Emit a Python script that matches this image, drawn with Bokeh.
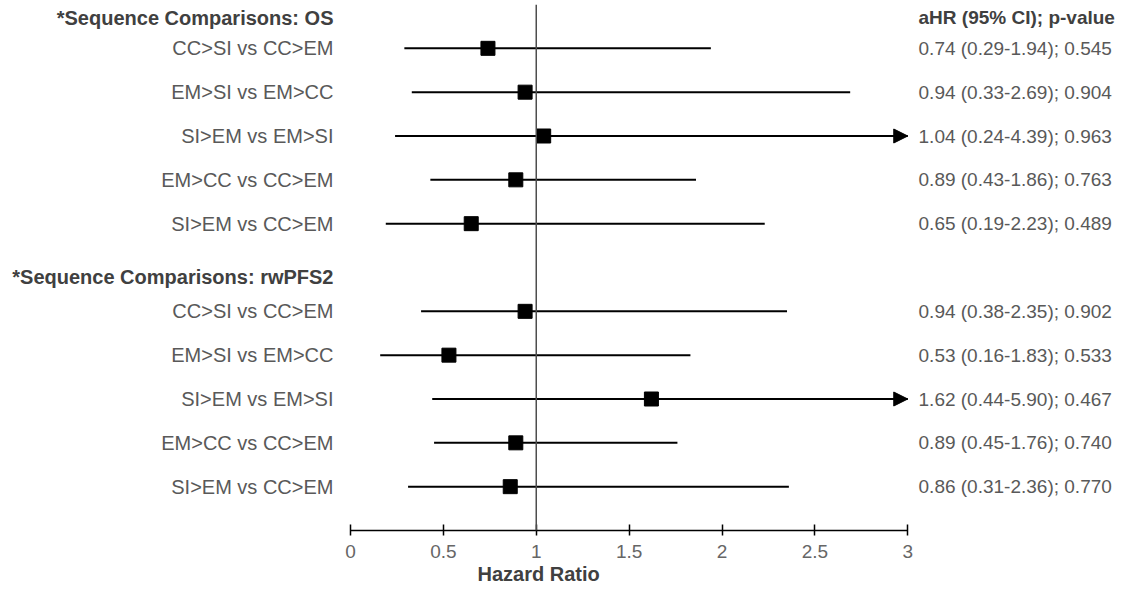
import numpy as np
from bokeh.plotting import figure
from bokeh.models import Range1d, Span, Arrow, NormalHead, Title, FixedTicker, NumeralTickFormatter
from bokeh.core.properties import value
from bokeh.embed import file_html
from bokeh.resources import INLINE

# ---------------- data ----------------
comparisons = ["CC>SI vs CC>EM", "EM>SI vs EM>CC", "SI>EM vs EM>SI", "EM>CC vs CC>EM", "SI>EM vs CC>EM"]
group_titles = ["*Sequence Comparisons: OS", "*Sequence Comparisons: rwPFS2"]
column_title = "aHR (95% CI); p-value"

os_hr = [0.74, 0.94, 1.04, 0.89, 0.65]
os_lo = [0.29, 0.33, 0.24, 0.43, 0.19]
os_hi = [1.94, 2.69, 4.39, 1.86, 2.23]
os_p = [0.545, 0.904, 0.963, 0.763, 0.489]

pfs_hr = [0.94, 0.53, 1.62, 0.89, 0.86]
pfs_lo = [0.38, 0.16, 0.44, 0.45, 0.31]
pfs_hi = [2.35, 1.83, 5.90, 1.76, 2.36]
pfs_p = [0.902, 0.533, 0.467, 0.740, 0.770]

x_ticks = [0, 0.5, 1, 1.5, 2, 2.5, 3]
x_label = "Hazard Ratio"

# ---------------- layout helpers ----------------
XMAX = 3.0
FONT = value("Liberation Sans")
LABEL_COLOR = "#595959"
HEAD_COLOR = "#404040"

groups = [(os_hr, os_lo, os_hi, os_p), (pfs_hr, pfs_lo, pfs_hi, pfs_p)]
group_offset = [0, 6]
header_y = [-0.7, 5.22]
RIGHT_X = 3.058

p = figure(width=1122, height=585, output_backend="svg", toolbar_location=None,
           x_range=Range1d(-1.841, 4.156), y_range=Range1d(11.0, -1.0),
           y_axis_location=None, min_border_left=8, min_border_right=0,
           min_border_top=4, min_border_bottom=55, title=None)
p.outline_line_color = None
p.xgrid.visible = False
p.ygrid.visible = False
p.background_fill_color = "white"

# x axis
ax = p.xaxis[0]
ax.bounds = (0, XMAX)
ax.ticker = FixedTicker(ticks=x_ticks)
ax.formatter = NumeralTickFormatter(format="0.[0]")
ax.minor_tick_line_color = None
ax.major_tick_in = 6
ax.major_tick_out = 5
ax.major_tick_line_width = 1.5
ax.major_tick_line_color = "black"
ax.axis_line_width = 1.5
ax.axis_line_color = "black"
ax.major_label_standoff = 9
ax.major_label_text_font = "Liberation Sans"
ax.major_label_text_font_size = "19px"
ax.major_label_text_color = "#666666"

# axis title placed under the axis
p.add_layout(Title(text=x_label, align="left", offset=469, standoff=0,
                   text_font="Liberation Sans", text_font_size="20px", text_font_style="bold",
                   text_color=HEAD_COLOR), "below")

# reference line at HR = 1
p.add_layout(Span(location=1, dimension="height", line_color="#4d4d4d", line_width=1.5))

for g, (hr, lo, hi, pv) in enumerate(groups):
    ys = [group_offset[g] + i for i in range(len(hr))]
    hi_cap = [min(h, XMAX) for h in hi]
    p.segment(x0=lo, y0=ys, x1=hi_cap, y1=ys, line_color="black", line_width=2)
    for h, y in zip(hi, ys):
        if h > XMAX:
            p.add_layout(Arrow(x_start=XMAX - 0.08, y_start=y, x_end=XMAX, y_end=y,
                               line_color="black", line_width=2,
                               end=NormalHead(size=14, fill_color="black", line_color="black", line_width=1)))
    p.scatter(x=hr, y=ys, marker="square", size=14, fill_color="black", line_color="black")
    # left labels
    p.text(x=[-0.0915] * len(ys), y=ys, text=comparisons, text_font=FONT,
           text_font_size=value("20px"), text_color=LABEL_COLOR,
           text_align="right", text_baseline="middle")
    # right labels
    txt = [f"{h:.2f} ({l:.2f}-{u:.2f}); {q:.3f}" for h, l, u, q in zip(hr, lo, hi, pv)]
    p.text(x=[RIGHT_X] * len(ys), y=ys, text=txt, text_font=FONT,
           text_font_size=value("19px"), text_color=LABEL_COLOR,
           text_align="left", text_baseline="middle")
    # header
    p.text(x=[-0.0915], y=[header_y[g]], text=[group_titles[g]], text_font=FONT,
           text_font_size=value("20px"), text_font_style="bold", text_color=HEAD_COLOR,
           text_align="right", text_baseline="middle")

p.text(x=[RIGHT_X], y=[header_y[0]], text=[column_title], text_font=FONT,
       text_font_size=value("19px"), text_font_style="bold", text_color=HEAD_COLOR,
       text_align="left", text_baseline="middle")

open("out.html", "w").write(file_html(p, INLINE))
